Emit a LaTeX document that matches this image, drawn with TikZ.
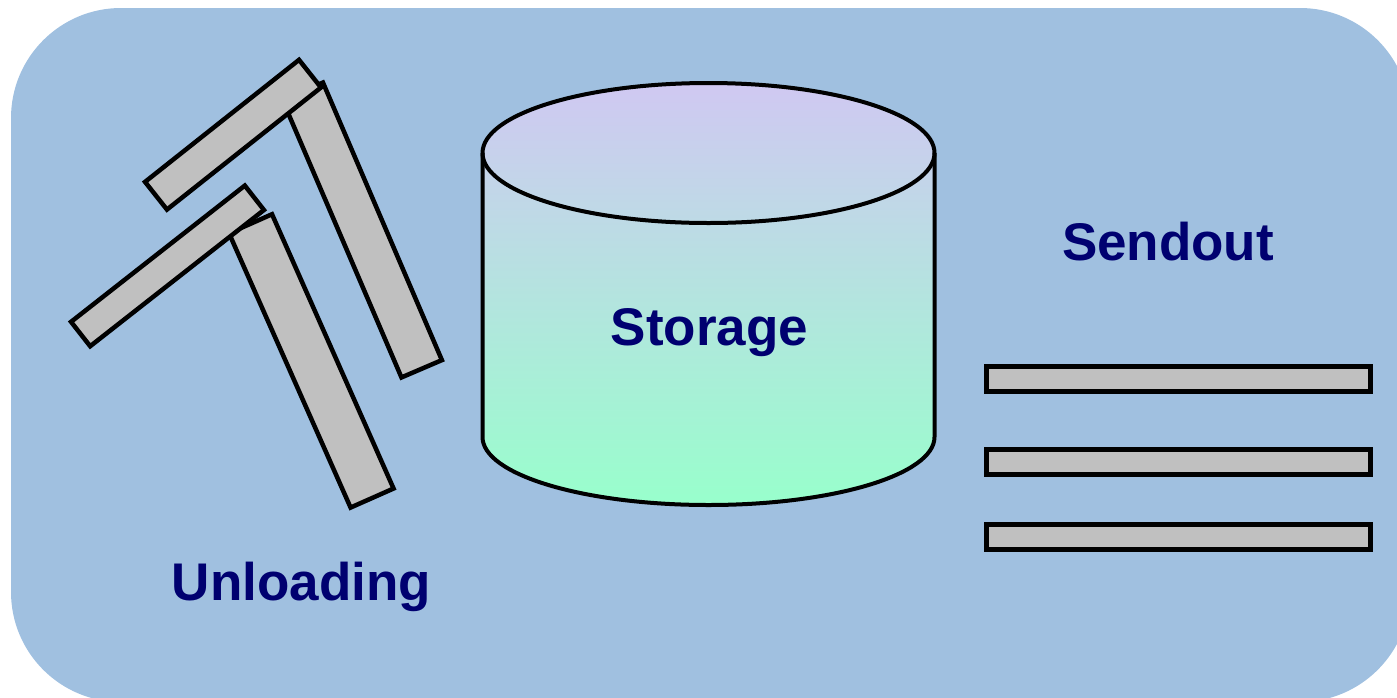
\documentclass[tikz,border=0pt]{standalone}
\usepackage{fontspec}
\setmainfont{Liberation Sans}
\definecolor{panel}{HTML}{A0C0E0}
\definecolor{barfill}{HTML}{C0C0C0}
\definecolor{labelblue}{HTML}{000070}
\definecolor{cyltop}{HTML}{D0C8F2}
\definecolor{cylbot}{HTML}{98FFCC}
\begin{document}
\begin{tikzpicture}[x=1pt,y=-1pt,
  bar/.style={rectangle, draw=black, fill=barfill, line width=4.5pt,
              inner sep=0pt, outer sep=0pt, line join=miter},
  areatext/.style={text=labelblue, font=\fontsize{53}{60}\selectfont\bfseries,
                   anchor=base, inner sep=0pt}]
\useasboundingbox (0,0) rectangle (1397,697);

% rounded panel behind everything
\fill[panel, rounded corners=110pt] (11,8) rectangle (1410,702);

% unloading: four tilted planks
\node[bar, minimum width=302pt, minimum height=44pt, rotate=-66.8] (plankB) at (362.2,230) {};
\node[bar, minimum width=196.5pt, minimum height=35.3pt, rotate=38.4] (plankA) at (233,134.7) {};
\node[bar, minimum width=300pt, minimum height=47pt, rotate=-66.1] (plankD) at (311.3,360.9) {};
\node[bar, minimum width=220.8pt, minimum height=31pt, rotate=38.1] (plankC) at (167.5,265.9) {};

% storage cylinder
\shade[top color=cyltop, bottom color=cylbot]
  (482.5,153) -- (482.5,437)
  arc[start angle=180, end angle=360, x radius=226pt, y radius=68pt]
  -- (934.5,153)
  arc[start angle=0, end angle=180, x radius=226pt, y radius=70pt] -- cycle;
\draw[line width=4pt, line join=round]
  (482.5,153) -- (482.5,437)
  arc[start angle=180, end angle=360, x radius=226pt, y radius=68pt]
  -- (934.5,153)
  arc[start angle=0, end angle=180, x radius=226pt, y radius=70pt] -- cycle;
\draw[line width=4pt]
  (482.5,153) arc[start angle=180, end angle=360, x radius=226pt, y radius=70pt];

% sendout: three flat planks
\node[bar, minimum width=384pt, minimum height=25pt] (out1) at (1178.5,379) {};
\node[bar, minimum width=384pt, minimum height=25pt] (out2) at (1178.5,462) {};
\node[bar, minimum width=384pt, minimum height=25pt] (out3) at (1178.5,537) {};

% area names
\node[areatext] (storage) at (709.5,345) {Storage};
\node[areatext] (sendout) at (1168,260) {Sendout};
\node[areatext] (unloading) at (301.5,600) {Unloading};
\end{tikzpicture}
\end{document}
